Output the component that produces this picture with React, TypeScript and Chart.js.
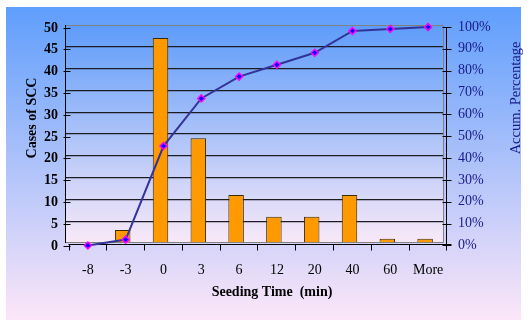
import React, { useEffect, useRef } from "react";
import { Chart, registerables } from "chart.js";

Chart.register(...registerables);

const categories = ["-8", "-3", "0", "3", "6", "12", "20", "40", "60", "More"];
const cases = [0, 3, 47, 24, 11, 6, 6, 11, 1, 1];
const accumPct = [0, 2.7, 45.5, 67.3, 77.3, 82.7, 88.2, 98.2, 99.1, 100];
const leftTicks = [0, 5, 10, 15, 20, 25, 30, 35, 40, 45, 50];
const rightTicks = [0, 10, 20, 30, 40, 50, 60, 70, 80, 90, 100];

const FONT = "'Liberation Serif', 'Times New Roman', serif";

const decor = {
  id: "decor",
  beforeDraw(chart: any) {
    const { ctx, chartArea } = chart;
    ctx.save();
    const g = ctx.createLinearGradient(0, 7, 0, 320);
    g.addColorStop(0, "#5f9efc");
    g.addColorStop(1, "#fce6f8");
    ctx.fillStyle = g;
    ctx.fillRect(6, 7, 515, 313);
    const g2 = ctx.createLinearGradient(0, chartArea.top, 0, chartArea.bottom);
    g2.addColorStop(0, "#5e9cfa");
    g2.addColorStop(1, "#f9e9f8");
    ctx.fillStyle = g2;
    ctx.fillRect(chartArea.left, chartArea.top, chartArea.right - chartArea.left, chartArea.bottom - chartArea.top);
    ctx.restore();
  },
  beforeDatasetsDraw(chart: any) {
    const { ctx, chartArea, scales } = chart;
    const x = scales.x;
    const y = scales.y;
    const y2 = scales.y2;
    ctx.save();
    ctx.strokeStyle = "#808080";
    ctx.lineWidth = 1;
    ctx.beginPath();
    ctx.moveTo(chartArea.left, chartArea.top + 0.5);
    ctx.lineTo(chartArea.right - 0.5, chartArea.top + 0.5);
    ctx.lineTo(chartArea.right - 0.5, chartArea.bottom - 0.5);
    ctx.lineTo(chartArea.left, chartArea.bottom - 0.5);
    ctx.stroke();
    ctx.strokeStyle = "#000000";
    const lx = Math.round(chartArea.left) - 0.5;
    ctx.beginPath();
    ctx.moveTo(lx, chartArea.top);
    ctx.lineTo(lx, chartArea.bottom);
    for (const v of leftTicks) {
      const py = Math.round(y.getPixelForValue(v) + 2.5) + 0.5;
      ctx.moveTo(lx - 2, py);
      ctx.lineTo(lx + 5, py);
    }
    ctx.stroke();
    const rx = Math.round(chartArea.right) + 2.5;
    ctx.beginPath();
    ctx.moveTo(rx, y2.getPixelForValue(100));
    ctx.lineTo(rx, y2.getPixelForValue(0));
    for (const v of rightTicks) {
      const py = Math.round(y2.getPixelForValue(v)) + 0.5;
      ctx.moveTo(rx - 4, py);
      ctx.lineTo(rx + 5, py);
    }
    ctx.stroke();
    const by = Math.round(chartArea.bottom) + 1.5;
    const cw = x.getPixelForValue(1) - x.getPixelForValue(0);
    ctx.beginPath();
    ctx.moveTo(x.getPixelForValue(0) - cw / 2 + 2.5, by);
    ctx.lineTo(rx + 5, by);
    for (let k = 0; k <= categories.length; k++) {
      const px = Math.round(x.getPixelForValue(0) - cw / 2 + k * cw + 2.5) + 0.5;
      ctx.moveTo(px, by);
      ctx.lineTo(px, by + 6);
    }
    ctx.stroke();
    ctx.restore();
  },
  afterDraw(chart: any) {
    const { ctx } = chart;
    ctx.save();
    ctx.fillStyle = "#000000";
    ctx.font = `bold 14px ${FONT}`;
    ctx.textAlign = "center";
    ctx.textBaseline = "middle";
    ctx.fillText("Seeding Time  (min)", 272, 292);
    ctx.save();
    ctx.translate(32, 118);
    ctx.rotate(-Math.PI / 2);
    ctx.fillText("Cases of SCC", 0, 0);
    ctx.restore();
    ctx.save();
    ctx.translate(516, 98);
    ctx.rotate(-Math.PI / 2);
    ctx.fillStyle = "#1a1a8a";
    ctx.font = `14.5px ${FONT}`;
    ctx.fillText("Accum. Percentage", 0, 0);
    ctx.restore();
    ctx.restore();
  },
};

export default function App() {
  const ref = useRef<HTMLCanvasElement | null>(null);
  useEffect(() => {
    if (!ref.current) return;
    const shift = 3 / 37.8;
    const chart = new Chart(ref.current, {
      type: "bar",
      data: {
        labels: categories,
        datasets: [
          {
            type: "line",
            label: "Accum. Percentage",
            data: accumPct.map((v, i) => ({ x: i, y: v })),
            xAxisID: "x2",
            yAxisID: "y2",
            borderColor: "#333399",
            borderWidth: 2,
            tension: 0,
            pointStyle: "rectRot",
            pointRadius: 3.5,
            pointBackgroundColor: "#0000ff",
            pointBorderColor: "#ff00ff",
            pointBorderWidth: 1.5,
            clip: 12,
            order: 0,
          } as any,
          {
            type: "bar",
            label: "Cases of SCC",
            data: cases,
            xAxisID: "x",
            yAxisID: "y",
            backgroundColor: "#ff9900",
            borderColor: "#3d2b00",
            borderWidth: 1,
            barPercentage: 0.41,
            categoryPercentage: 1,
            grouped: false,
            order: 1,
          } as any,
        ],
      },
      options: {
        animation: false,
        responsive: false,
        devicePixelRatio: 1,
        layout: { padding: { top: 25, left: 0, right: 0, bottom: 0 } },
        plugins: { legend: { display: false }, tooltip: { enabled: false } },
        scales: {
          x: {
            type: "category",
            offset: true,
            grid: { display: false },
            border: { display: false },
            ticks: {
              color: "#000000",
              font: { family: FONT, size: 14 },
              padding: 11,
              labelOffset: 3,
              maxRotation: 0,
              autoSkip: false,
            },
            afterFit(s: any) {
              s.height = 77;
            },
          },
          x2: {
            type: "linear",
            display: false,
            offset: false,
            grid: { offset: false },
            min: -0.5 - shift,
            max: 9.5 - shift,
          },
          y: {
            type: "linear",
            position: "left",
            min: 0,
            max: 50,
            afterBuildTicks(s: any) {
              s.ticks = leftTicks.map((v) => ({ value: v }));
            },
            grid: {
              drawTicks: false,
              color: (c: any) => (c.tick && (c.tick.value === 0 || c.tick.value === 50) ? "rgba(0,0,0,0)" : "#1c1c24"),
              lineWidth: 1.3,
            },
            border: { display: false },
            ticks: {
              color: "#000000",
              font: { family: FONT, size: 14, weight: "bold" },
              padding: 8,
              labelOffset: 3,
            },
            afterFit(s: any) {
              s.width = 66;
            },
          },
          y2: {
            type: "linear",
            position: "right",
            min: 1.14,
            max: 100.9,
            afterBuildTicks(s: any) {
              s.ticks = rightTicks.map((v) => ({ value: v }));
            },
            grid: { display: false, drawTicks: false },
            border: { display: false },
            ticks: {
              color: "#1a1a8a",
              font: { family: FONT, size: 14 },
              padding: 14,
              callback: (v: any) => `${v}%`,
            },
            afterFit(s: any) {
              s.width = 87;
            },
          },
        },
      },
      plugins: [decor],
    });
    return () => chart.destroy();
  }, []);
  return (
    <div style={{ position: "absolute", left: 0, top: 0, width: 531, height: 320 }}>
      <canvas ref={ref} width={531} height={320} style={{ display: "block", width: 531, height: 320 }} />
    </div>
  );
}
